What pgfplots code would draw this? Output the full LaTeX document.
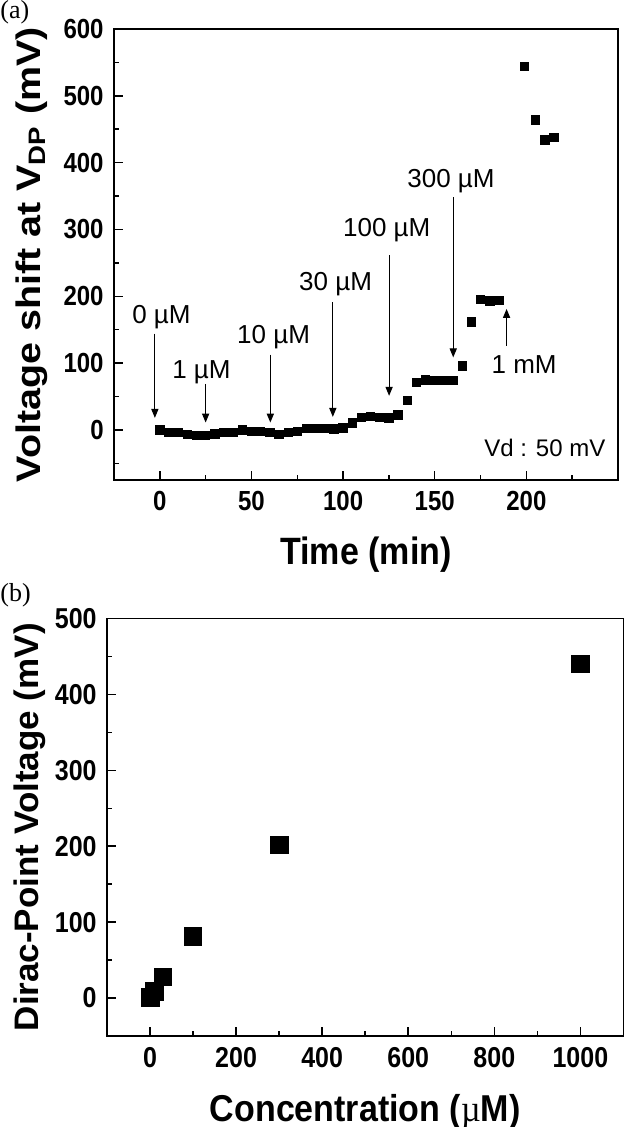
\documentclass[border=0pt]{standalone}
\usepackage{fontspec}
\setmainfont{Liberation Sans}
\newfontfamily\seriffont{Liberation Serif}
\usepackage{pgfplots}
\pgfplotsset{compat=1.18}
\usetikzlibrary{arrows.meta}

\begin{document}
\begin{tikzpicture}
\useasboundingbox (0,0) rectangle (312.5pt,-563.5pt);
\pgfplotsset{
  myax/.style={
    scale only axis,
    axis line style={line width=0.75pt},
    tick align=inside, tick pos=left,
    major tick length=4.5pt, minor tick length=2.5pt,
    every tick/.style={line width=0.75pt, black},
    scaled ticks=false,
    /pgf/number format/1000 sep={},
    /pgf/number format/assume math mode=true,
    xticklabel style={anchor=north, inner sep=0pt, yshift=-5.5pt},
    yticklabel style={anchor=east, inner sep=0pt, xshift=-5pt},
    xticklabel={\scalebox{1}[1.15]{\pgfmathprintnumber{\tick}}},
    yticklabel={\scalebox{1}[1.15]{\pgfmathprintnumber{\tick}}},
    label style={font=\fontsize{17pt}{17pt}\selectfont\bfseries},
  }
}
\node[anchor=north west, inner sep=0pt, font=\seriffont\fontsize{13pt}{13pt}\selectfont] at (0,0) {(a)};
\node[anchor=north west, inner sep=0pt, font=\seriffont\fontsize{13pt}{13pt}\selectfont] at (0,-291.5pt) {(b)};

% ---------------- panel (a)
\begin{axis}[myax,
  at={(57pt,-240pt)}, anchor=south west,
  width=252pt, height=225.5pt,
  xmin=-25, xmax=250, ymin=-75, ymax=600,
  xtick={0,50,...,200}, ytick={0,100,...,600},
  minor xtick={25,75,125,175,225}, minor ytick={-50,50,...,550},
  tick label style={font=\fontsize{12pt}{12pt}\selectfont\bfseries},
  xlabel={\scalebox{1}[1.12]{Time (min)}},
  ylabel={\scalebox{1.16}[1]{Voltage shift at V\textsubscript{DP} (mV)}},
  xlabel style={at={(axis description cs:0.5,-0.166)}, anchor=center},
  ylabel style={at={(axis description cs:-0.163,0.5)}, anchor=center},
]
\addplot[only marks, mark=square*, mark size=2.1pt, black] coordinates {
(0,0) (5,-3.5) (10,-4) (15,-7) (20,-8.5) (25,-8.5) (30,-6) (35,-3.5) (40,-3.5)
(45,0) (50,-2) (55,-2) (60,-3.5) (65,-7) (70,-3.5) (75,-2) (80,2.5) (85,2.5)
(90,2.5) (95,1.5) (100,3) (105,10.5) (110,19) (115,20.5) (120,19) (125,18)
(130,22.5) (135,44) (140,71.5) (145,75) (150,74) (155,74) (160,74) (165,95.5)
(170,161.5) (175,195) (180,193) (185,194) (199,544) (205,464) (210,434) (215,438)
};
\begin{scope}[every node/.style={anchor=base, inner sep=0pt, font=\fontsize{13pt}{13pt}\selectfont}]
\node at (axis cs:0.9,159.5) {0 µM};
\node at (axis cs:22.7,77) {1 µM};
\node at (axis cs:62.1,129.5) {10 µM};
\node at (axis cs:95.9,208) {30 µM};
\node at (axis cs:123.8,289.5) {100 µM};
\node at (axis cs:158.9,363) {300 µM};
\node at (axis cs:198.8,84.5) {1 mM};
\end{scope}
\node[anchor=base east, inner sep=0pt, font=\fontsize{12pt}{12pt}\selectfont] at (axis cs:243.3,-40) {Vd : 50 mV};
\begin{scope}[line width=0.5pt, -{Triangle[width=3.6pt,length=4.5pt]}]
\draw (axis cs:-2.7,144) -- (axis cs:-2.7,18);
\draw (axis cs:25,69) -- (axis cs:25,11);
\draw (axis cs:60.3,112.5) -- (axis cs:60.3,11);
\draw (axis cs:94.4,191) -- (axis cs:94.4,19.5);
\draw (axis cs:125.1,261) -- (axis cs:125.1,51);
\draw (axis cs:160.1,348.5) -- (axis cs:160.1,108.5);
\draw (axis cs:189.2,126) -- (axis cs:189.2,181);
\end{scope}
\end{axis}

% ---------------- panel (b)
\begin{axis}[myax,
  at={(53.5pt,-518pt)}, anchor=south west,
  width=258.2pt, height=208.75pt,
  xmin=-100, xmax=1100, ymin=-50, ymax=500,
  xtick={0,200,...,1000}, ytick={0,100,...,500},
  minor xtick={100,300,...,900}, minor ytick={-50,50,...,450},
  tick label style={font=\fontsize{12.5pt}{12.5pt}\selectfont\bfseries},
  xlabel={\scalebox{1}[1.1]{Concentration ({\seriffont\mdseries µ}M)}},
  ylabel={\scalebox{1.03}[1]{Dirac-Point Voltage (mV)}},
  xlabel style={at={(axis description cs:0.5,-0.181)}, anchor=center},
  ylabel style={at={(axis description cs:-0.149,0.5)}, anchor=center},
]
\addplot[only marks, mark=square*, mark size=4.4pt, black] coordinates {
(0,0) (1,1) (10,9) (30,28) (100,81) (300,202) (1000,440)
};
\end{axis}
\end{tikzpicture}
\end{document}
